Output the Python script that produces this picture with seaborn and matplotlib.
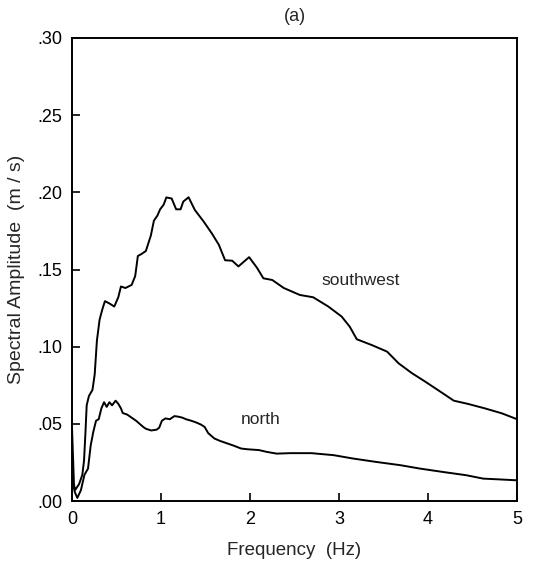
import pandas as pd
import matplotlib
matplotlib.use("Agg")
import matplotlib.pyplot as plt
import seaborn as sns
from matplotlib.ticker import FuncFormatter

# southwest station spectrum
sw_freq = [0.0, 0.022, 0.034, 0.08, 0.116, 0.135, 0.15, 0.165, 0.19, 0.23,
           0.255, 0.28, 0.31, 0.34, 0.37, 0.42, 0.475, 0.52, 0.55, 0.60,
           0.67, 0.71, 0.74, 0.78, 0.83, 0.886, 0.92, 0.96, 0.99, 1.03,
           1.06, 1.12, 1.17, 1.22, 1.25, 1.31, 1.38, 1.48, 1.57, 1.65,
           1.72, 1.80, 1.87, 1.93, 1.99, 2.08, 2.15, 2.25, 2.38, 2.56,
           2.71, 2.88, 3.03, 3.12, 3.20, 3.37, 3.54, 3.67, 3.82, 3.97,
           4.14, 4.29, 4.45, 4.64, 4.83, 5.0]
sw_amp = [0.0475, 0.011, 0.007, 0.011, 0.017, 0.026, 0.043, 0.062, 0.068, 0.072,
          0.082, 0.104, 0.1175, 0.124, 0.1295, 0.128, 0.126, 0.132, 0.139, 0.138,
          0.140, 0.1457, 0.1588, 0.160, 0.162, 0.172, 0.1816, 0.185, 0.189, 0.192,
          0.1967, 0.196, 0.189, 0.189, 0.194, 0.1968, 0.1886, 0.181, 0.1735, 0.166,
          0.156, 0.1557, 0.152, 0.155, 0.158, 0.151, 0.1443, 0.1432, 0.138, 0.1335,
          0.132, 0.126, 0.1195, 0.113, 0.1048, 0.101, 0.0968, 0.0892, 0.0828, 0.0773,
          0.0708, 0.065, 0.0629, 0.060, 0.0568, 0.053]

# north station spectrum
n_freq = [0.0, 0.03, 0.06, 0.10, 0.14, 0.18, 0.21, 0.24, 0.27, 0.30, 0.33, 0.36, 0.39, 0.42,
          0.45, 0.49, 0.52, 0.55, 0.57, 0.62, 0.67, 0.72, 0.76, 0.80, 0.83, 0.89, 0.95, 0.98,
          1.01, 1.05, 1.10, 1.15, 1.19, 1.24, 1.28, 1.34, 1.39, 1.45, 1.49, 1.53, 1.60, 1.66,
          1.71, 1.76, 1.81, 1.90, 1.975, 2.10, 2.19, 2.30, 2.45, 2.69, 2.94, 3.16, 3.42, 3.69,
          3.91, 4.17, 4.43, 4.62, 4.80, 5.0]
n_amp = [0.015, 0.006, 0.002, 0.007, 0.017, 0.021, 0.036, 0.045, 0.052, 0.053, 0.060, 0.064, 0.061, 0.064,
         0.062, 0.065, 0.063, 0.060, 0.057, 0.056, 0.054, 0.052, 0.050, 0.048, 0.0468, 0.0457, 0.0462, 0.0475,
         0.052, 0.0535, 0.053, 0.055, 0.0547, 0.054, 0.053, 0.052, 0.051, 0.0495, 0.048, 0.044, 0.0405, 0.039,
         0.038, 0.037, 0.036, 0.034, 0.0335, 0.033, 0.0318, 0.0307, 0.031, 0.031, 0.0297, 0.0275, 0.0253, 0.0232,
         0.021, 0.0188, 0.0167, 0.0145, 0.014, 0.0134]

x_ticks = [0, 1, 2, 3, 4, 5]
y_ticks = [0.0, 0.05, 0.10, 0.15, 0.20, 0.25, 0.30]


def main():
	sns.set_style("ticks")
	plt.rcParams['font.family'] = ['Liberation Sans', 'DejaVu Sans']

	df = pd.concat([
		pd.DataFrame({'freq': sw_freq, 'amp': sw_amp, 'station': 'southwest'}),
		pd.DataFrame({'freq': n_freq, 'amp': n_amp, 'station': 'north'}),
	])

	fig = plt.figure(figsize=(5.43, 5.67), dpi=100)
	ax = fig.add_axes([72 / 543, 1 - 501 / 567, 445 / 543, 463 / 567])

	sns.lineplot(data=df, x='freq', y='amp', units='station', estimator=None, sort=False,
				 color='black', linewidth=1.4, ax=ax, legend=False)

	ax.set_xlim(0, 5)
	ax.set_ylim(0, 0.30)
	ax.set_xticks(x_ticks)
	ax.set_yticks(y_ticks)
	ax.yaxis.set_major_formatter(FuncFormatter(lambda v, p: ('%.2f' % v)[1:]))
	ax.tick_params(direction='in', length=6, width=1.2, labelsize=13, colors='black', pad=7)
	for s in ax.spines.values():
		s.set_linewidth(1.4)
		s.set_color('black')

	ax.set_xlabel('Frequency  (Hz)', fontsize=13.5, labelpad=10)
	ax.set_ylabel('Spectral Amplitude  (m / s)', fontsize=14, labelpad=9)
	ax.set_title('(a)', fontsize=13, pad=12)

	ax.text(2.8, 0.143, 'southwest', fontsize=12.5, va='center')
	ax.text(1.9, 0.053, 'north', fontsize=12.5, va='center')

	fig.savefig('out.png', dpi=100)


if __name__ == "__main__":
	main()
